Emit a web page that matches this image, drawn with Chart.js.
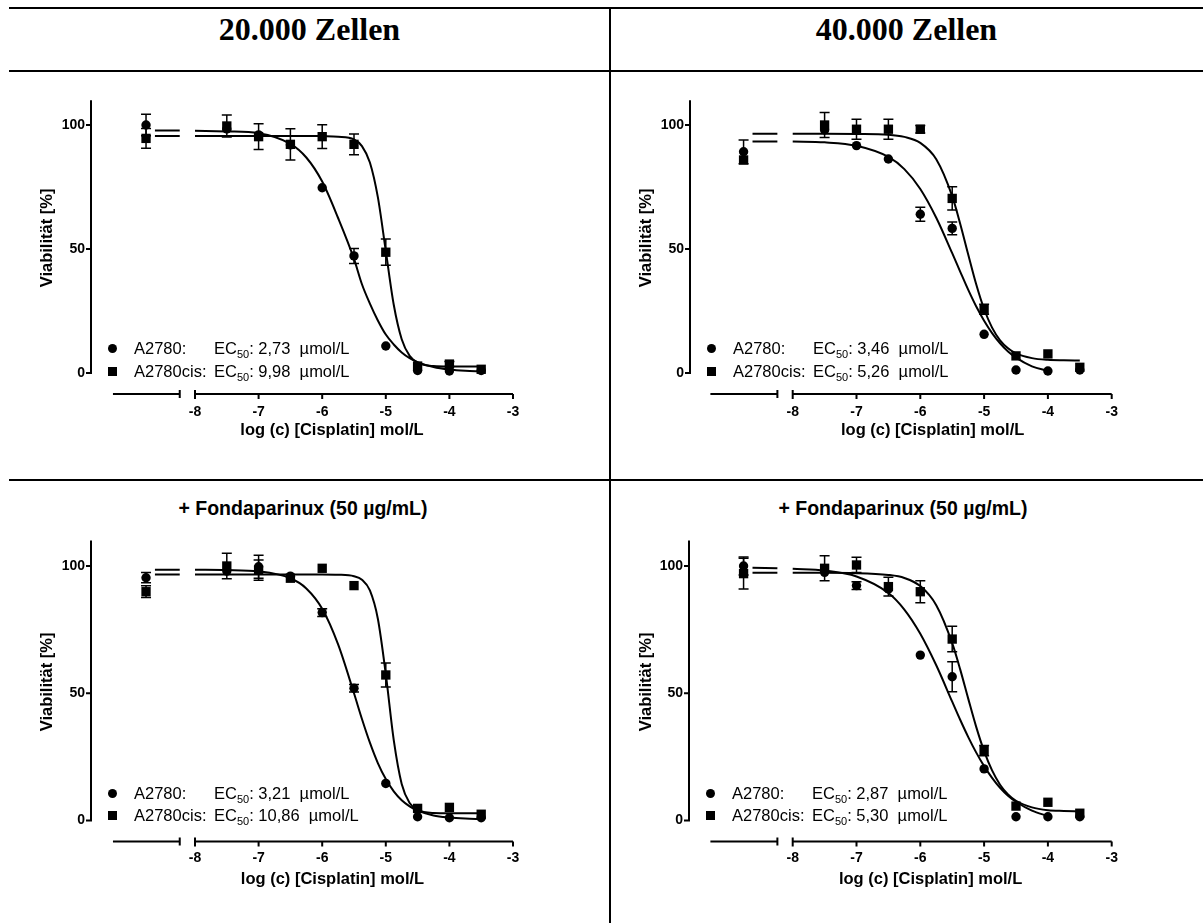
<!DOCTYPE html>
<html>
<head>
<meta charset="utf-8">
<script src="https://cdn.jsdelivr.net/npm/chart.js@4.4.1/dist/chart.umd.min.js"></script>
<style>
  body { margin: 0; background: #fff; }
  #page { position: relative; width: 1203px; height: 923px; overflow: hidden; color: #000;
          font-family: "Liberation Sans", Arial, sans-serif; }
  .rule { position: absolute; background: #000; }
  .head { position: absolute; top: 11px; height: 38px; line-height: 38px; text-align: center;
          font: bold 32px "Liberation Serif", "Times New Roman", serif; }
  .sub { position: absolute; height: 24px; line-height: 24px; text-align: center; font-weight: bold; font-size: 19.5px; }
  canvas { position: absolute; }
  .lg { position: absolute; font-size: 16.5px; line-height: 20px; height: 20px; white-space: pre; }
  .lg sub { font-size: 11px; vertical-align: baseline; position: relative; top: 4px; }
  .mk { position: absolute; background: #000; }
</style>
</head>
<body>
<div id="page">
  <div class="rule" style="left:9px; top:7px; width:1194px; height:2px"></div>
  <div class="rule" style="left:9px; top:70px; width:1194px; height:2px"></div>
  <div class="rule" style="left:9px; top:479px; width:1194px; height:2px"></div>
  <div class="rule" style="left:609px; top:7px; width:1.5px; height:916px"></div>
  <div class="head" style="left:9px; width:601px">20.000 Zellen</div>
  <div class="head" style="left:610px; width:593px">40.000 Zellen</div>
  <div class="sub" style="left:103px; width:400px; top:496px">+ Fondaparinux (50 µg/mL)</div>
  <div class="sub" style="left:703px; width:400px; top:496px">+ Fondaparinux (50 µg/mL)</div>
</div>
<script>
// log concentration of each well; the first one is the untreated control,
// shown on the short left piece of the broken x axis
const logConc = [-8.77, -7.5, -7, -6.5, -6, -5.5, -5, -4.5, -4, -3.5];
const xTicks = [-8, -7, -6, -5, -4, -3];
const yTicks = [0, 50, 100];
// x positions at which the fitted curves were read (the null at -8.1 is the axis break)
const fitLog = [-8.63, -8.24, -8.1, -8, -7.5, -7, -6.5, -6.25, -6, -5.75, -5.5, -5.375,
                -5.25, -5.125, -5, -4.875, -4.75, -4.625, -4.5, -4.25, -4, -3.75, -3.5];

const cellNames = ['A2780:', 'A2780cis:'];
const ec50A2780 = ['2,73', '3,46', '3,21', '2,87'];
const ec50Cis = ['9,98', '5,26', '10,86', '5,30'];

// 20.000 Zellen
const p1A2780 = [100, 98.4, 96, 92, 74.7, 47.2, 10.9, 1, 0.8, 1];
const p1A2780Err = [4.3, 0, 0, 0, 0, 3, 0, 0, 0, 0];
const p1Cis = [94.6, 99.6, 95.3, 92.2, 95.3, 92.2, 48.7, 2.8, 3.6, 1.5];
const p1CisErr = [4, 4.4, 5.2, 6.3, 4.8, 4.2, 5.3, 0, 1, 0];
const p1A2780Fit = [97.8, 97.8, null, 97.7, 97.4, 96.7, 92.4, 86.9, 77.2, 62.5, 46, 35.8,
                    28, 21.2, 15.5, 11.5, 8.3, 6, 4.4, 2.4, 1.4, 0.9, 0.7];
const p1CisFit = [95.6, 95.6, null, 95.6, 95.6, 95.6, 95.6, 95.6, 95.5, 95.3, 94.2, 91.5,
                  84.9, 70.9, 49.2, 27.5, 13.6, 6.9, 4.2, 2.8, 2.6, 2.6, 2.6];

// 40.000 Zellen
const p2A2780 = [89.2, 98, 91.7, 86.3, 64, 58.3, 15.6, 1.2, 0.8, 1.2];
const p2A2780Err = [4.8, 0, 0, 0, 2.8, 2.6, 0, 0, 0, 0];
const p2Cis = [85.9, 100, 98.3, 98.3, 98.3, 70.4, 25.7, 6.9, 7.7, 2.3];
const p2CisErr = [0, 5, 4, 4, 1.5, 4.7, 2, 0, 0, 0];
const p2A2780Fit = [93.3, 93.3, null, 93.3, 93, 91.6, 87.1, 82.2, 74.2, 62.6, 48.3, 40.9,
                    33.6, 26.9, 21.1, 16.1, 12, 8.7, 6.2, 2.7, 0.8, null, null];
const p2CisFit = [96.5, 96.5, null, 96.5, 96.5, 96.4, 96.1, 95.2, 92.8, 86.2, 71.3, 60.2,
                  47.9, 35.9, 25.8, 18.3, 13.2, 10, 7.9, 6, 5.3, 5.1, 5];

// 20.000 Zellen + Fondaparinux
const p3A2780 = [95.4, 98, 99.7, 96, 81.7, 52, 14.6, 1.5, 1.1, 1.1];
const p3A2780Err = [2, 0, 4.5, 0, 1.5, 1.5, 0, 0, 0, 0];
const p3Cis = [89.9, 100, 98.4, 95.2, 99.1, 92.3, 57.2, 4.8, 5.2, 2.5];
const p3CisErr = [2.3, 5, 4, 0, 0, 0, 4.7, 0, 0, 0];
const p3A2780Fit = [98.5, 98.5, null, 98.5, 98.4, 97.9, 95.2, 91.2, 83.2, 69.2, 50, 39.9,
                    30.6, 22.6, 16.3, 11.5, 8, 5.6, 3.9, 2, 1.2, 0.8, 0.6];
const p3CisFit = [96.7, 96.7, null, 96.7, 96.7, 96.7, 96.7, 96.7, 96.7, 96.6, 96, 94.6,
                  90.4, 79.3, 57.5, 31.6, 14.4, 6.9, 4.2, 3, 2.9, 2.9, 2.9];

// 40.000 Zellen + Fondaparinux
const p4A2780 = [100, 97.5, 92.3, 91, 65, 56.5, 20.3, 1.5, 1.5, 1.5];
const p4A2780Err = [3.5, 0, 1.5, 0, 0, 5.9, 0, 0, 0, 0];
const p4Cis = [97, 99.1, 100.4, 91.9, 89.9, 71.3, 27.5, 5.7, 7.2, 2.9];
const p4CisErr = [6, 4.9, 3, 3.7, 4.3, 5, 2, 0, 0, 0];
const p4A2780Fit = [99.3, 99.1, null, 98.9, 98.2, 95.9, 89.4, 82.9, 73.4, 61, 46.7, 39.6,
                    32.9, 26.8, 21.4, 16.8, 12.9, 9.8, 7.4, 3.9, 1.8, null, null];
const p4CisFit = [97.3, 97.3, null, 97.3, 97.3, 97.2, 96.5, 95.3, 92.1, 84.6, 69.7, 59.4,
                  48, 36.9, 27.3, 19.7, 14.1, 10.3, 7.8, 5.2, 4.1, 3.8, 3.6];

const FONT = '"Liberation Sans", Arial, sans-serif';
Chart.defaults.font.family = FONT;
Chart.defaults.color = '#000';

// where each panel sits on the page (pixels)
const panels = [
  { left: 9, top: 80, width: 600, height: 380, axisX: 91, y100: 125, y0: 373, x8: 195, x3: 513,
    xTitleCX: 332, yTitleCX: 47, xLabelCY: 411.7, xTitleCY: 430, legendRows: [-24.7, -2],
    a: p1A2780, aErr: p1A2780Err, c: p1Cis, cErr: p1CisErr, aFit: p1A2780Fit, cFit: p1CisFit },
  { left: 610, top: 80, width: 593, height: 380, axisX: 690, y100: 125, y0: 373, x8: 792.7, x3: 1111.7,
    xTitleCX: 932.7, yTitleCX: 646.7, xLabelCY: 411.7, xTitleCY: 430, legendRows: [-24.7, -2],
    a: p2A2780, aErr: p2A2780Err, c: p2Cis, cErr: p2CisErr, aFit: p2A2780Fit, cFit: p2CisFit },
  { left: 9, top: 520, width: 600, height: 390, axisX: 91, y100: 566, y0: 820.6, x8: 195, x3: 513,
    xTitleCX: 332.5, yTitleCX: 47, xLabelCY: 858.5, xTitleCY: 879, legendRows: [-27.3, -5.6],
    a: p3A2780, aErr: p3A2780Err, c: p3Cis, cErr: p3CisErr, aFit: p3A2780Fit, cFit: p3CisFit },
  { left: 610, top: 520, width: 593, height: 390, axisX: 689, y100: 566, y0: 820.6, x8: 792.7, x3: 1111.7,
    xTitleCX: 930.6, yTitleCX: 646, xLabelCY: 858.5, xTitleCY: 879, legendRows: [-27.3, -5.6],
    a: p4A2780, aErr: p4A2780Err, c: p4Cis, cErr: p4CisErr, aFit: p4A2780Fit, cFit: p4CisFit }
];

const Y_MIN = -1.1, Y_MAX = 110;
const LOW_SEGMENT = [-9.29, -8.24];   // short piece of the broken x axis

function pts(xs, ys) {
  return xs.map((x, i) => ({ x: x, y: ys[i] }));
}

// GraphPad style axes: y axis from 0 up, x axis set below and broken in two pieces
const graphpadAxes = {
  id: 'graphpadAxes',
  beforeDatasetsDraw(chart, args, o) {
    const { ctx, chartArea: area, scales: { x, y } } = chart;
    ctx.save();
    ctx.strokeStyle = '#000';
    ctx.lineWidth = 2;
    const zero = y.getPixelForValue(0);
    ctx.beginPath();
    ctx.moveTo(area.left, zero + 1);
    ctx.lineTo(area.left, area.top);
    yTicks.forEach(v => {
      const p = y.getPixelForValue(v);
      ctx.moveTo(area.left - 5, p);
      ctx.lineTo(area.left, p);
    });
    const ay = zero + o.gap;
    const l0 = x.getPixelForValue(LOW_SEGMENT[0]);
    const l1 = x.getPixelForValue(LOW_SEGMENT[1]);
    const r0 = x.getPixelForValue(xTicks[0]);
    const r1 = x.getPixelForValue(xTicks[xTicks.length - 1]);
    ctx.moveTo(l0, ay); ctx.lineTo(l1, ay);
    ctx.moveTo(l1, ay - 4); ctx.lineTo(l1, ay + 4);
    ctx.moveTo(r0, ay); ctx.lineTo(r1, ay);
    ctx.moveTo(r0, ay - 4); ctx.lineTo(r0, ay + 4);
    xTicks.forEach(v => {
      const p = x.getPixelForValue(v);
      ctx.moveTo(p, ay); ctx.lineTo(p, ay + 5);
    });
    ctx.stroke();

    // error bars
    ctx.lineWidth = 1.5;
    chart.data.datasets.forEach((ds, i) => {
      if (!ds.errorBars) return;
      chart.getDatasetMeta(i).data.forEach((pt, j) => {
        const e = ds.errorBars[j];
        if (!e) return;
        const v = ds.data[j].y;
        const t = y.getPixelForValue(v + e);
        const b = y.getPixelForValue(v - e);
        ctx.beginPath();
        ctx.moveTo(pt.x, t); ctx.lineTo(pt.x, b);
        ctx.moveTo(pt.x - 5, t); ctx.lineTo(pt.x + 5, t);
        ctx.moveTo(pt.x - 5, b); ctx.lineTo(pt.x + 5, b);
        ctx.stroke();
      });
    });
    ctx.restore();
  }
};

const page = document.getElementById('page');

panels.forEach((p, k) => {
  const ppu = (p.y0 - p.y100) / 100;
  const chartTop = p.y100 - (Y_MAX - 100) * ppu;
  const chartBottom = p.y0 - Y_MIN * ppu;
  const upx = (p.x3 - p.x8) / 5;
  const right = 2 * p.xTitleCX - p.axisX;
  const xMin = -8 - (p.x8 - p.axisX) / upx;
  const xMax = -3 + (right - p.x3) / upx;
  const titleLH = 16.5 * 1.2;
  const xScaleH = p.xTitleCY + titleLH / 2 - chartBottom;

  const canvas = document.createElement('canvas');
  canvas.width = p.width;
  canvas.height = p.height;
  canvas.style.left = p.left + 'px';
  canvas.style.top = p.top + 'px';
  page.appendChild(canvas);

  new Chart(canvas, {
    type: 'scatter',
    data: {
      datasets: [
        { data: pts(logConc, p.a), errorBars: p.aErr, pointStyle: 'circle', pointRadius: 4.7,
          backgroundColor: '#000', borderColor: '#000', borderWidth: 0 },
        { data: pts(logConc, p.c), errorBars: p.cErr, pointStyle: 'rect', pointRadius: 6.6,
          backgroundColor: '#000', borderColor: '#000', borderWidth: 0 },
        { data: pts(fitLog, p.aFit), showLine: true, pointRadius: 0, borderColor: '#000', borderWidth: 2,
          cubicInterpolationMode: 'monotone', spanGaps: false },
        { data: pts(fitLog, p.cFit), showLine: true, pointRadius: 0, borderColor: '#000', borderWidth: 2,
          cubicInterpolationMode: 'monotone', spanGaps: false }
      ]
    },
    options: {
      responsive: false,
      animation: false,
      events: [],
      clip: false,
      layout: {
        padding: {
          top: chartTop - p.top,
          left: 0,
          right: p.left + p.width - right,
          bottom: p.top + p.height - chartBottom - xScaleH
        }
      },
      plugins: {
        legend: { display: false },
        tooltip: { enabled: false },
        graphpadAxes: { gap: 21 }
      },
      scales: {
        x: {
          type: 'linear', min: xMin, max: xMax,
          grid: { display: false, drawTicks: false }, border: { display: false },
          afterBuildTicks: s => { s.ticks = xTicks.map(v => ({ value: v })); },
          afterFit: s => { s.height = xScaleH; },
          ticks: { font: { size: 14, weight: 'bold' }, padding: p.xLabelCY - chartBottom - 8.4,
                   maxRotation: 0, callback: v => String(v) },
          title: { display: true, text: 'log (c) [Cisplatin] mol/L', padding: 0,
                   font: { size: 16.5, weight: 'bold' } }
        },
        y: {
          min: Y_MIN, max: Y_MAX,
          grid: { display: false, drawTicks: false }, border: { display: false },
          afterBuildTicks: s => { s.ticks = yTicks.map(v => ({ value: v })); },
          afterFit: s => { s.width = p.axisX - p.left; },
          ticks: { font: { size: 14, weight: 'bold' }, padding: 6, callback: v => String(v) },
          title: { display: true, text: 'Viabilität [%]', padding: { top: p.yTitleCX - p.left - titleLH / 2, bottom: 0 },
                   font: { size: 16.5, weight: 'bold' } }
        }
      }
    },
    plugins: [graphpadAxes]
  });

  // legend with subscript, as page text
  const mx = p.axisX + 21;
  p.legendRows.forEach((dy, r) => {
    const ry = p.y0 + dy;
    const mk = document.createElement('div');
    mk.className = 'mk';
    const s = 9;
    mk.style.left = (mx - s / 2) + 'px';
    mk.style.top = (ry - s / 2) + 'px';
    mk.style.width = s + 'px';
    mk.style.height = s + 'px';
    if (r === 0) mk.style.borderRadius = '50%';
    page.appendChild(mk);

    const name = document.createElement('div');
    name.className = 'lg';
    name.style.left = (mx + 22) + 'px';
    name.style.top = (ry - 10) + 'px';
    name.textContent = cellNames[r];
    page.appendChild(name);

    const ec = document.createElement('div');
    ec.className = 'lg';
    ec.style.left = (mx + 102) + 'px';
    ec.style.top = (ry - 10) + 'px';
    ec.innerHTML = 'EC<sub>50</sub>: ' + (r === 0 ? ec50A2780[k] : ec50Cis[k]) + '  µmol/L';
    page.appendChild(ec);
  });
});
</script>
</body>
</html>
